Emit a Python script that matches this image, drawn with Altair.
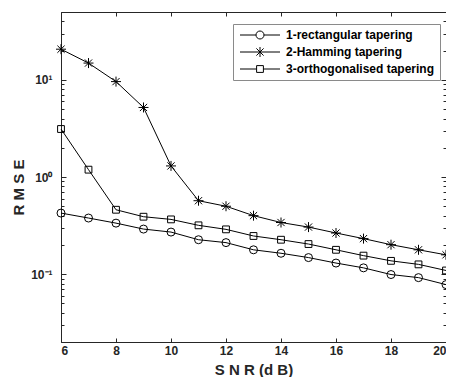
import altair as alt
import pandas as pd

snr = list(range(6, 21))
rectangular = [0.425, 0.378, 0.335, 0.291, 0.271, 0.226, 0.211, 0.178, 0.164, 0.148, 0.130, 0.116, 0.099, 0.092, 0.078]
hamming = [20.7, 14.9, 9.6, 5.2, 1.3, 0.57, 0.50, 0.40, 0.34, 0.305, 0.265, 0.232, 0.201, 0.178, 0.158]
orthogonalised = [3.12, 1.19, 0.46, 0.39, 0.366, 0.318, 0.289, 0.247, 0.226, 0.204, 0.178, 0.155, 0.137, 0.126, 0.109]
methods = ["1-rectangular tapering", "2-Hamming tapering", "3-orthogonalised tapering"]

x_ticks = [6, 8, 10, 12, 14, 16, 18, 20]
y_major = [0.1, 1, 10]
y_major_labels = ["10\u207b\u00b9", "10\u2070", "10\u00b9"]
y_minor = [0.02, 0.03, 0.04, 0.05, 0.06, 0.07, 0.08, 0.09,
           0.2, 0.3, 0.4, 0.5, 0.6, 0.7, 0.8, 0.9,
           2, 3, 4, 5, 6, 7, 8, 9, 20, 30, 40, 50]

rows = []
for name, vals in zip(methods, [rectangular, hamming, orthogonalised]):
    for s, v in zip(snr, vals):
        rows.append({"snr": s, "rmse": v, "method": name})
df = pd.DataFrame(rows)

W, H = 385, 330
LEFT = 53
FONT = "Liberation Sans"
INK = "#262626"

label_expr = " : ".join(
    [f"datum.value == {v} ? '{l}'" for v, l in zip(y_major, y_major_labels)]
) + " : ''"

xscale = alt.Scale(type="linear", domain=[6, 20], nice=False, zero=False)
yscale = alt.Scale(type="log", domain=[0.02, 50], nice=False)

x_enc = alt.X("snr:Q", scale=xscale,
              axis=alt.Axis(values=x_ticks, title="S N R (d B)", format="d",
                            grid=True, gridDash=[4, H - 8, 40], gridColor=INK,
                            gridOpacity=1, ticks=False, domain=False,
                            labelPadding=3, titleY=27, titleBaseline="middle"))

lines = alt.Chart(df).mark_line(color="black", strokeWidth=1).encode(
    x=x_enc,
    y=alt.Y("rmse:Q", scale=yscale,
            axis=alt.Axis(values=y_major, labelExpr=label_expr, title="R M S E",
                          grid=True, gridDash=[5, W - 10, 40], gridColor=INK,
                          gridOpacity=1, ticks=False, domain=False,
                          labelPadding=9, titleX=18 - (LEFT + 8), titleY=H / 2 + 10,
                          titleBaseline="middle", titleAngle=270)),
    detail="method:N",
)

circle_p = "circle"
star_p = "M-1.25,0H1.25M0,-1.25V1.25M-0.9,-0.9L0.9,0.9M-0.9,0.9L0.9,-0.9"
square_p = "M-0.85,-0.85H0.85V0.85H-0.85Z"

points = alt.Chart(df).mark_point(filled=False, color="black", strokeWidth=1, size=64, opacity=1).encode(
    x=alt.X("snr:Q", scale=xscale),
    y=alt.Y("rmse:Q", scale=yscale,
            axis=alt.Axis(orient="right", values=y_minor, labels=False, ticks=False,
                          domain=False, title=None, grid=True,
                          gridDash=[3, W - 6, 40], gridColor=INK, gridOpacity=1)),
    shape=alt.Shape("method:N", scale=alt.Scale(domain=methods, range=[circle_p, star_p, square_p]),
                    legend=None),
)

leg_circle = "M-5,0H-1M1,0H5M-1,0A1,1,0,1,0,1,0A1,1,0,1,0,-1,0"
leg_star = "M-5,0H5M0,-1.25V1.25M-0.9,-0.9L0.9,0.9M-0.9,0.9L0.9,-0.9"
leg_square = "M-5,0H-0.85M0.85,0H5M-0.85,-0.85H0.85V0.85H-0.85Z"

legend_layer = alt.Chart(df).mark_point(filled=False, color="black", opacity=0).encode(
    x=alt.X("snr:Q", scale=xscale),
    y=alt.Y("rmse:Q", scale=yscale, axis=None),
    shape=alt.Shape("method:N",
                    scale=alt.Scale(domain=methods, range=[leg_circle, leg_star, leg_square]),
                    legend=alt.Legend(title=None, orient="none", legendX=172, legendY=12,
                                      symbolSize=64, symbolOffset=16, labelOffset=20,
                                      symbolStrokeColor="black", symbolStrokeWidth=1,
                                      symbolFillColor="white", symbolOpacity=1,
                                      labelFont=FONT, labelFontWeight="bold",
                                      labelFontSize=12, labelColor="black",
                                      fillColor="white", strokeColor="#8a8a8a",
                                      padding=5, rowPadding=4, labelLimit=400)),
)

chart = alt.layer(lines, points, legend_layer).resolve_scale(
    shape="independent"
).resolve_axis(y="independent").properties(
    width=W, height=H,
    autosize=alt.AutoSizeParams(type="none"),
    padding={"left": LEFT, "top": 4, "right": 0, "bottom": 35},
    background="white",
).configure_view(stroke=INK, strokeWidth=1).configure_axis(
    labelFont=FONT, labelFontWeight="bold", labelFontSize=12, labelColor=INK,
    titleFont=FONT, titleFontWeight="bold", titleFontSize=15, titleColor=INK,
)

chart.save("out.html", embed_options={"renderer": "svg", "actions": False})
